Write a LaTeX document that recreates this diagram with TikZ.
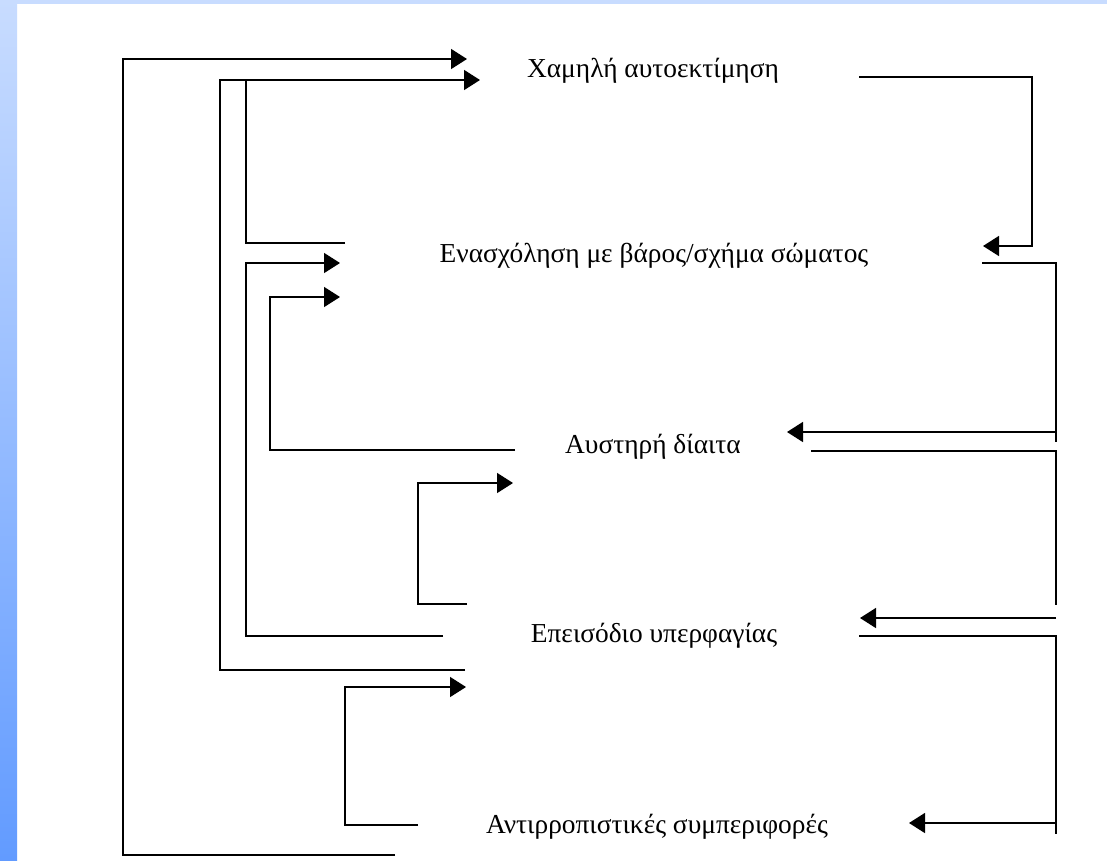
\documentclass[tikz,border=0pt]{standalone}
\usepackage{fontspec}
\setmainfont{Liberation Serif}
\usetikzlibrary{arrows.meta}
\usetikzlibrary{positioning}
\definecolor{stripblue}{RGB}{200,220,255}
\definecolor{deepblue}{RGB}{98,155,255}
\tikzset{main node/.style={inner sep=0pt, anchor=base,
    font=\fontsize{27.4}{33}\selectfont},
  link/.style={line width=1.5pt},
  arrow link/.style={line width=1.5pt, -{Triangle[length=16pt,width=20pt]}}}

\begin{document}
\begin{tikzpicture}[x=1pt,y=-1pt]
    \useasboundingbox (0,0) rectangle (1107,860);
    \fill[white] (0,0) rectangle (1107,860);
    \fill[stripblue] (0,0) rectangle (1107,4);
    \shade[top color=stripblue, bottom color=deepblue] (0,0) rectangle (17,860);

    \node[main node] (1) at (653,77) {Χαμηλή αυτοεκτίμηση};
    \node[main node] (2) at (654,262) {Ενασχόληση με βάρος/σχήμα σώματος};
    \node[main node] (3) at (653,453) {Αυστηρή δίαιτα};
    \node[main node] (4) at (654,642) {Επεισόδιο υπερφαγίας};
    \node[main node] (5) at (657,833) {Αντιρροπιστικές συμπεριφορές};

    % left side
    \coordinate (5a) at (395,855);
    \coordinate (1a) at (123,59);
    \coordinate (1A) at (467,59);
    \coordinate (4a) at (465,670);
    \coordinate (1b) at (220,80);
    \coordinate (1B) at (480,80);
    \coordinate (2a) at (345,243);
    \coordinate (1c) at (246,80);
    \coordinate (4b) at (443,636);
    \coordinate (2b) at (246,263);
    \coordinate (2B) at (340,263);
    \coordinate (3a) at (515,450);
    \coordinate (2c) at (270,297);
    \coordinate (2C) at (340,297);
    \coordinate (4c) at (467,604);
    \coordinate (3b) at (418,483);
    \coordinate (3B) at (513,483);
    \coordinate (5b) at (418,825);
    \coordinate (4d) at (345,687);
    \coordinate (4D) at (466,687);

    % right side
    \coordinate (1d) at (859,77);
    \coordinate (2d) at (1032,246);
    \coordinate (2D) at (983,246);
    \coordinate (2e) at (982,263);
    \coordinate (3c) at (1056,442);
    \coordinate (3d) at (1056,432);
    \coordinate (3D) at (787,432);
    \coordinate (3e) at (811,451);
    \coordinate (4e) at (1056,605);
    \coordinate (4f) at (1056,618);
    \coordinate (4F) at (860,618);
    \coordinate (4g) at (859,636);
    \coordinate (5c) at (1056,834);
    \coordinate (5d) at (1056,823);
    \coordinate (5D) at (909,823);

    \draw[arrow link] (5a) -| (1a) -- (1A);
    \draw[arrow link] (4a) -| (1b) -- (1B);
    \draw[link] (2a) -| (1c);
    \draw[arrow link] (4b) -| (2b) -- (2B);
    \draw[arrow link] (3a) -| (2c) -- (2C);
    \draw[arrow link] (4c) -| (3b) -- (3B);
    \draw[arrow link] (5b) -| (4d) -- (4D);

    \draw[arrow link] (1d) -| (2d) -- (2D);
    \draw[link] (2e) -| (3c);
    \draw[arrow link] (3d) -- (3D);
    \draw[link] (3e) -| (4e);
    \draw[arrow link] (4f) -- (4F);
    \draw[link] (4g) -| (5c);
    \draw[arrow link] (5d) -- (5D);
\end{tikzpicture}
\end{document}
